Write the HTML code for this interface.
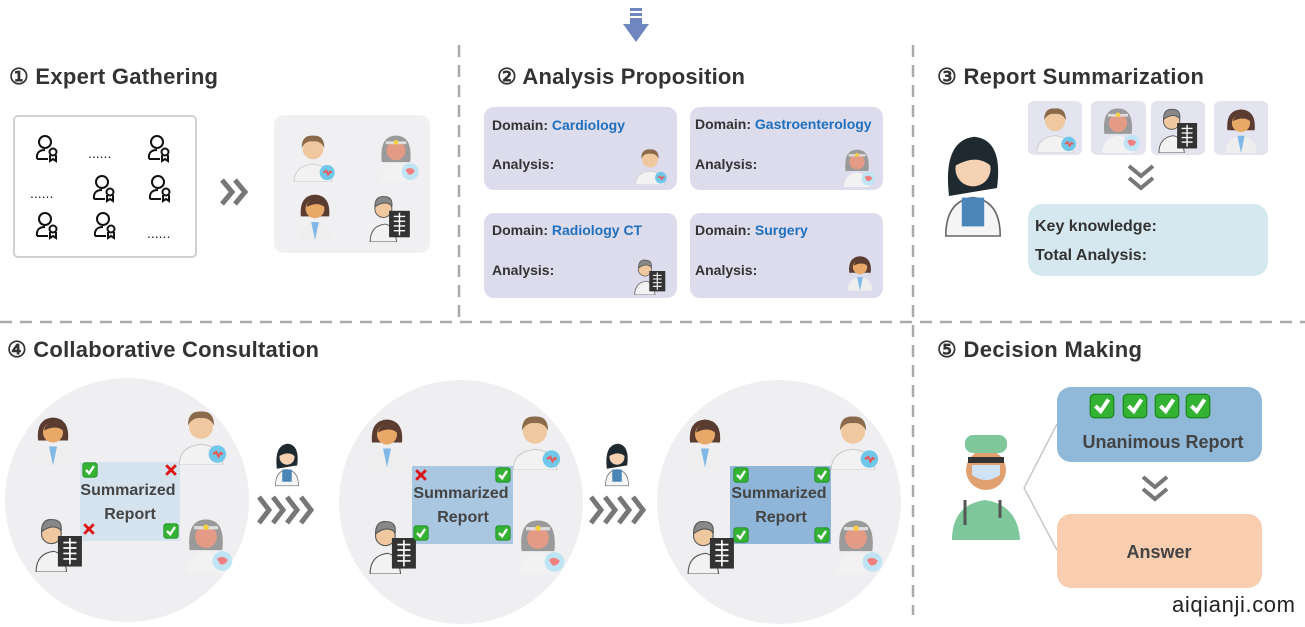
<!DOCTYPE html>
<html><head><meta charset="utf-8"><style>
html,body{margin:0;padding:0;background:#fff;}
svg{display:block;font-family:"Liberation Sans",sans-serif;}
</style></head><body>
<svg width="1305" height="627" viewBox="0 0 1305 627" xmlns="http://www.w3.org/2000/svg">
<defs>
<symbol id="dM" viewBox="0 0 50 55">
 <path d="M5 55 Q5 38 25 36 Q45 38 45 55Z" fill="#f2f2f2" stroke="#ccc"/>
 <circle cx="25" cy="20" r="11" fill="#f0c8a0"/>
 <path d="M13 19 Q13 5 25 6 Q37 5 37 19 Q33 11 25 12 Q17 11 13 19Z" fill="#8a6a4a"/>
 <circle cx="40" cy="45" r="8" fill="#6fc7ea"/><path d="M36 45 l3 -2 2 4 2 -3 2 1" stroke="#e85a5a" fill="none" stroke-width="2"/>
</symbol>
<symbol id="dF" viewBox="0 0 50 55">
 <path d="M10 30 Q8 8 25 7 Q42 8 40 30Z" fill="#5a3d30"/>
 <path d="M8 55 Q8 38 25 36 Q42 38 42 55Z" fill="#eee"/>
 <path d="M21 36 L25 55 L29 36Z" fill="#7fb8e6"/>
 <circle cx="25" cy="22" r="10" fill="#e8a868"/>
 <path d="M16 20 Q18 10 30 12 Q34 15 35 20 Q28 14 16 20Z" fill="#5a3d30"/>
</symbol>
<symbol id="dG" viewBox="0 0 50 55">
 <path d="M10 34 Q7 6 25 6 Q43 6 40 34Z" fill="#9a9a9a"/>
 <path d="M8 55 Q8 38 25 36 Q42 38 42 55Z" fill="#f2f2f2"/>
 <circle cx="25" cy="22" r="10" fill="#e49b85"/>
 <rect x="14" y="12" width="22" height="3" fill="#ddd"/><circle cx="25" cy="13" r="2.5" fill="#f5d040"/>
 <circle cx="40" cy="44" r="9" fill="#bfe5f5"/><path d="M35 42 Q40 38 45 43 Q43 48 38 47Z" fill="#f08080"/>
</symbol>
<symbol id="dX" viewBox="0 0 50 55">
 <path d="M4 55 Q4 38 20 36 Q30 38 32 55Z" fill="#f2f2f2" stroke="#555"/>
 <circle cx="18" cy="20" r="9" fill="#f0c8a0" stroke="#555"/>
 <path d="M9 18 Q9 6 19 7 Q28 7 27 17 Q20 10 9 18Z" fill="#888" stroke="#555"/>
 <rect x="24" y="22" width="22" height="28" fill="#333"/>
 <path d="M35 24 v24 M29 28 h12 M29 33 h12 M29 38 h12 M29 43 h12" stroke="#fff" stroke-width="1.5"/>
</symbol>
<symbol id="dW" viewBox="0 0 50 70">
 <path d="M10 45 Q6 10 26 8 Q44 10 40 40 Z" fill="#1f2a30"/>
 <path d="M8 70 Q8 48 25 46 Q42 48 42 70Z" fill="#f5f5f5" stroke="#666"/>
 <circle cx="25" cy="28" r="11" fill="#f6d2b5"/>
 <path d="M14 26 Q16 12 28 14 Q36 18 37 27 Q28 18 14 26Z" fill="#1f2a30"/>
 <rect x="18" y="46" width="14" height="18" fill="#4a86b8"/>
</symbol>
<symbol id="ok" viewBox="0 0 20 20">
 <rect x="1" y="1" width="18" height="18" rx="3" fill="#34b233" stroke="#1f8a1f"/>
 <path d="M5 10 L9 14 L15 5" stroke="#fff" stroke-width="3" fill="none"/>
</symbol>
<symbol id="no" viewBox="0 0 20 20">
 <path d="M4 4 L16 16 M16 4 L4 16" stroke="#dd1111" stroke-width="3.5"/>
</symbol>
<symbol id="usr" viewBox="0 0 30 30">
 <circle cx="13" cy="9" r="6" fill="none" stroke="#111" stroke-width="2"/>
 <path d="M5 26 Q4 17 13 17 M5 26 H16" fill="none" stroke="#111" stroke-width="2"/>
 <circle cx="21" cy="19" r="3.5" fill="none" stroke="#111" stroke-width="2"/>
 <path d="M18 22 V28 L21 26 L24 28 V22" fill="none" stroke="#111" stroke-width="2"/>
</symbol>
</defs>

<rect x="630" y="8" width="12" height="3" fill="#6f86c0"/>
<rect x="630" y="13" width="12" height="3" fill="#6f86c0"/>
<path d="M630 18 h12 v6 h7 l-13 18 l-13 -18 h7z" fill="#6f86c0"/>

<g stroke="#aaa" stroke-width="2.5" stroke-dasharray="12,8">
 <line x1="459" y1="45" x2="459" y2="322"/>
 <line x1="913" y1="45" x2="913" y2="615"/>
 <line x1="0" y1="322" x2="1305" y2="322"/>
</g>

<g font-size="22" font-weight="bold" fill="#333">
 <text x="9" y="84" textLength="209">① Expert Gathering</text>
 <text x="497" y="84" textLength="248">② Analysis Proposition</text>
 <text x="937" y="84" textLength="267">③ Report Summarization</text>
 <text x="7" y="357" textLength="312">④ Collaborative Consultation</text>
 <text x="937" y="357" textLength="205">⑤ Decision Making</text>
</g>

<rect x="14" y="116" width="182" height="141" rx="4" fill="#fff" stroke="#d0d0d0" stroke-width="2"/>
<use href="#usr" x="32" y="133" width="30" height="30"/>
<use href="#usr" x="144" y="133" width="30" height="30"/>
<use href="#usr" x="89" y="173" width="30" height="30"/>
<use href="#usr" x="145" y="173" width="30" height="30"/>
<use href="#usr" x="32" y="210" width="30" height="30"/>
<use href="#usr" x="90" y="210" width="30" height="30"/>
<g font-size="14" fill="#222"><text x="88" y="158">......</text><text x="30" y="198">......</text><text x="147" y="238">......</text></g>
<path d="M222 180 l10 12 l-10 12 M235 180 l10 12 l-10 12" stroke="#777" stroke-width="5" fill="none"/>
<rect x="274" y="115" width="156" height="138" rx="10" fill="#f0f0f2"/>
<use href="#dM" x="287" y="130" width="52" height="52"/>
<use href="#dG" x="370" y="130" width="52" height="52"/>
<use href="#dF" x="290" y="188" width="50" height="52"/>
<use href="#dX" x="364" y="190" width="52" height="52"/>

<g fill="#dcdcec">
 <rect x="484" y="107" width="193" height="83" rx="10"/>
 <rect x="690" y="107" width="193" height="83" rx="10"/>
 <rect x="484" y="213" width="193" height="85" rx="10"/>
 <rect x="690" y="213" width="193" height="85" rx="10"/>
</g>
<g font-size="14" font-weight="bold" fill="#333">
 <text x="492" y="130">Domain: <tspan fill="#1f6fc0">Cardiology</tspan></text>
 <text x="695" y="129">Domain: <tspan fill="#1f6fc0">Gastroenterology</tspan></text>
 <text x="492" y="235">Domain: <tspan fill="#1f6fc0">Radiology CT</tspan></text>
 <text x="695" y="235">Domain: <tspan fill="#1f6fc0">Surgery</tspan></text>
 <text x="492" y="169">Analysis:</text>
 <text x="695" y="169">Analysis:</text>
 <text x="492" y="275">Analysis:</text>
 <text x="695" y="275">Analysis:</text>
</g>
<use href="#dM" x="630" y="145" width="40" height="40"/>
<use href="#dG" x="836" y="145" width="42" height="42"/>
<use href="#dX" x="630" y="255" width="40" height="40"/>
<use href="#dF" x="842" y="250" width="36" height="42"/>

<use href="#dW" x="933" y="122" width="80" height="116"/>
<g fill="#e4e4f0">
 <rect x="1028" y="101" width="54" height="54" rx="6"/>
 <rect x="1091" y="101" width="55" height="54" rx="6"/>
 <rect x="1151" y="101" width="54" height="54" rx="6"/>
 <rect x="1214" y="101" width="54" height="54" rx="6"/>
</g>
<use href="#dM" x="1030" y="103" width="50" height="50"/>
<use href="#dG" x="1093" y="103" width="50" height="50"/>
<use href="#dX" x="1153" y="103" width="50" height="50"/>
<use href="#dF" x="1217" y="103" width="48" height="50"/>
<path d="M1129 166 l12 10 l12 -10 M1129 178 l12 10 l12 -10" stroke="#777" stroke-width="4" fill="none"/>
<rect x="1028" y="204" width="240" height="72" rx="14" fill="#d6e8ef"/>
<g font-size="16" font-weight="bold" fill="#333">
 <text x="1035" y="231">Key knowledge:</text>
 <text x="1035" y="260">Total Analysis:</text>
</g>

<g fill="#efeff1">
 <circle cx="127" cy="500" r="122"/>
 <circle cx="461" cy="502" r="122"/>
 <circle cx="779" cy="502" r="122"/>
</g>
<rect x="80" y="462" width="100" height="79" fill="#d5e3ef"/>
<rect x="412" y="466" width="101" height="78" fill="#a9c7e0"/>
<rect x="730" y="466" width="101" height="78" fill="#8fb6d8"/>
<g font-size="16" font-weight="bold" fill="#444" text-anchor="middle">
 <text x="128" y="495">Summarized</text><text x="130" y="519">Report</text>
 <text x="461" y="498">Summarized</text><text x="463" y="522">Report</text>
 <text x="779" y="498">Summarized</text><text x="781" y="522">Report</text>
</g>
<use href="#dF" x="28" y="408" width="50" height="60"/>
<use href="#dM" x="170" y="405" width="62" height="60"/>
<use href="#dX" x="26" y="512" width="66" height="60"/>
<use href="#dG" x="178" y="513" width="56" height="60"/>
<use href="#ok" x="82" y="462" width="16" height="16"/>
<use href="#no" x="163" y="462" width="16" height="16"/>
<use href="#no" x="81" y="521" width="16" height="16"/>
<use href="#ok" x="163" y="523" width="16" height="16"/>
<use href="#dF" x="362" y="410" width="50" height="60"/>
<use href="#dM" x="504" y="410" width="62" height="60"/>
<use href="#dX" x="360" y="514" width="66" height="60"/>
<use href="#dG" x="510" y="514" width="56" height="60"/>
<use href="#no" x="413" y="467" width="16" height="16"/>
<use href="#ok" x="495" y="467" width="16" height="16"/>
<use href="#ok" x="413" y="525" width="16" height="16"/>
<use href="#ok" x="495" y="525" width="16" height="16"/>
<use href="#dF" x="680" y="410" width="50" height="60"/>
<use href="#dM" x="822" y="410" width="62" height="60"/>
<use href="#dX" x="678" y="514" width="66" height="60"/>
<use href="#dG" x="828" y="514" width="56" height="60"/>
<use href="#ok" x="733" y="467" width="16" height="16"/>
<use href="#ok" x="814" y="467" width="16" height="16"/>
<use href="#ok" x="733" y="527" width="16" height="16"/>
<use href="#ok" x="814" y="527" width="16" height="16"/>
<use href="#dW" x="270" y="437" width="34" height="50"/>
<use href="#dW" x="600" y="437" width="34" height="50"/>
<g stroke="#777" stroke-width="5" fill="none">
 <path d="M259 497 l10 13 l-10 13 M273 497 l10 13 l-10 13 M287 497 l10 13 l-10 13 M301 497 l10 13 l-10 13"/>
 <path d="M591 497 l10 13 l-10 13 M605 497 l10 13 l-10 13 M619 497 l10 13 l-10 13 M633 497 l10 13 l-10 13"/>
</g>

<g>
 <path d="M952 540 Q952 505 985 500 Q1018 505 1020 540Z" fill="#7dc79a"/>
 <circle cx="986" cy="470" r="20" fill="#e0a070"/>
 <rect x="965" y="435" width="42" height="18" rx="8" fill="#7dc79a"/>
 <rect x="968" y="457" width="36" height="6" fill="#333"/>
 <path d="M972 465 h28 v10 q-14 10 -28 0z" fill="#cfe3f7"/>
 <path d="M965 500 v25 M1000 500 v18" stroke="#555" stroke-width="3"/>
</g>
<path d="M1057 424 L1024 488 L1057 550" stroke="#c8c8c8" stroke-width="1.5" fill="none"/>
<rect x="1057" y="387" width="205" height="75" rx="14" fill="#8fb8d9"/>
<use href="#ok" x="1089" y="393" width="26" height="26"/>
<use href="#ok" x="1122" y="393" width="26" height="26"/>
<use href="#ok" x="1154" y="393" width="26" height="26"/>
<use href="#ok" x="1185" y="393" width="26" height="26"/>
<text x="1163" y="448" font-size="18" font-weight="bold" fill="#444" text-anchor="middle">Unanimous Report</text>
<path d="M1143 477 l12 10 l12 -10 M1143 489 l12 10 l12 -10" stroke="#777" stroke-width="4" fill="none"/>
<rect x="1057" y="514" width="205" height="74" rx="14" fill="#f9cdb0"/>
<text x="1159" y="558" font-size="18" font-weight="bold" fill="#444" text-anchor="middle">Answer</text>
<text x="1172" y="612" font-size="22" fill="#222" textLength="123">aiqianji.com</text>
</svg>
</body></html>
